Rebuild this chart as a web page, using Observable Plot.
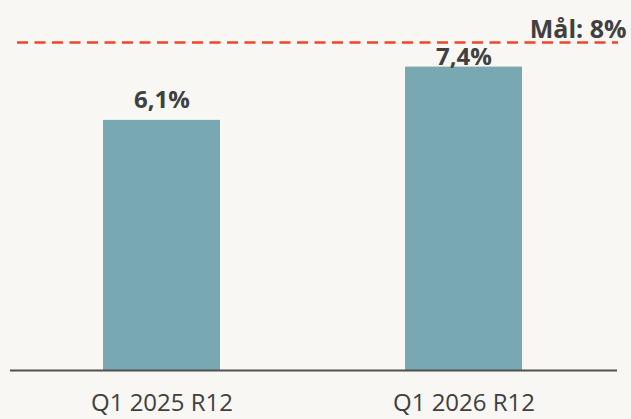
<!DOCTYPE html>
<html>
<head>
<meta charset="utf-8">
<script src="https://cdn.jsdelivr.net/npm/d3@7"></script>
<script src="https://cdn.jsdelivr.net/npm/@observablehq/plot@0.6"></script>
<style>
  html, body { margin: 0; padding: 0; background: #f9f7f3; }
  #chart svg { display: block; }
</style>
</head>
<body>
<div id="chart"></div>
<script>
const categories = ["Q1 2025 R12", "Q1 2026 R12"];
const values = [6.1, 7.4];
const labels = ["6,1%", "7,4%"];
const target = 8;
const targetLabel = "Mål: 8%";

const data = categories.map((c, i) => ({category: c, value: values[i], label: labels[i]}));

const textStyle = {x: "category", y: "value", text: "label", lineAnchor: "bottom", fontSize: 24, fontWeight: "bold", fill: "#404040"};

const chart = Plot.plot({
  width: 631,
  height: 419,
  marginLeft: 12,
  marginRight: 17,
  marginTop: 1,
  marginBottom: 49,
  style: {background: "#f9f7f3", fontFamily: "'Open Sans', sans-serif", color: "#404040"},
  x: {domain: categories, paddingInner: 0.612, paddingOuter: 0.3, label: null},
  y: {domain: [0, 9], axis: null},
  marks: [
    Plot.barY(data, {x: "category", y: "value", fill: "#78a8b2"}),
    Plot.ruleY([0], {stroke: "#505050", strokeWidth: 2, insetLeft: -2, insetRight: -3}),
    Plot.ruleY([target], {stroke: "#f0452a", strokeWidth: 2.5, strokeDasharray: "11,6.5", insetLeft: 5, insetRight: -4}),
    Plot.text([targetLabel], {y: target, text: d => d, frameAnchor: "right", textAnchor: "end", lineAnchor: "bottom", dx: 12, dy: -5, fontSize: 25, fontWeight: "bold", fill: "#404040"}),
    Plot.text(data.slice(0, 1), {...textStyle, dy: -12}),
    Plot.text(data.slice(1), {...textStyle, dy: -2}),
    Plot.axisX({tickSize: 0, tickPadding: 23, fontSize: 24, fill: "#404040"})
  ]
});
document.getElementById("chart").append(chart);
</script>
</body>
</html>
